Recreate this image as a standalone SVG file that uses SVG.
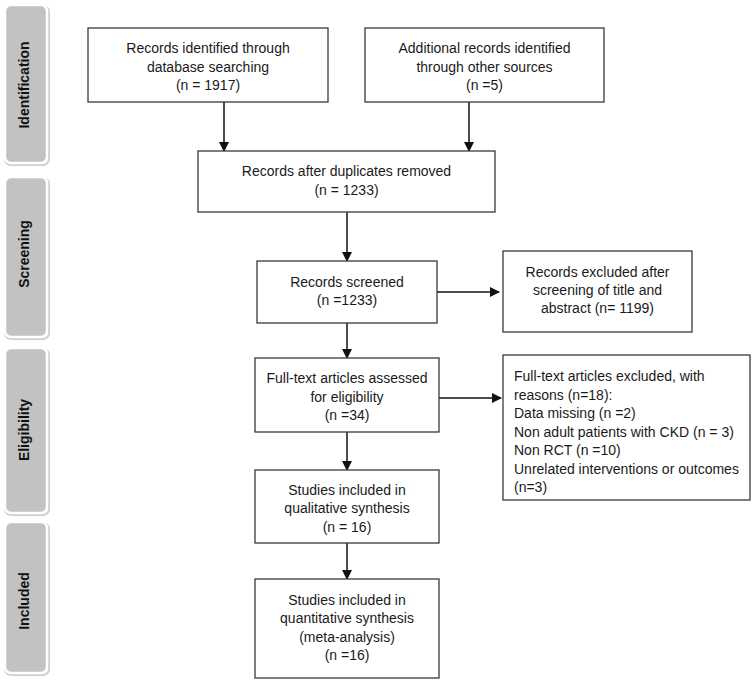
<svg xmlns="http://www.w3.org/2000/svg" width="754" height="681" viewBox="0 0 754 681">
<defs>
<style>
.box{fill:#fff;stroke:#3a3a3a;stroke-width:1.3}
.t{font-family:"Liberation Sans",Arial,sans-serif;font-size:14px;fill:#1a1a1a;text-anchor:middle}
.tl{font-family:"Liberation Sans",Arial,sans-serif;font-size:14px;fill:#1a1a1a}
.bar{fill:#c2c2c2;stroke:#fff;stroke-width:2.5}
.sh{fill:none;stroke:#d0d0d0;stroke-width:2}
.bt{font-family:"Liberation Sans",Arial,sans-serif;font-size:14px;font-weight:bold;fill:#111;text-anchor:middle}
.ln{stroke:#111;stroke-width:1.5;fill:none}
</style>
<marker id="ah" markerWidth="10" markerHeight="10" refX="9" refY="5" orient="auto" markerUnits="userSpaceOnUse">
<path d="M0,0 L10,5 L0,10 z" fill="#111"/>
</marker>
</defs>
<rect width="754" height="681" fill="#fff"/>
<g id="stage-identification">
<rect class="sh" x="5" y="6" width="44" height="159" rx="6"/>
<rect class="bar" x="5" y="5" width="42" height="158" rx="6"/>
<text class="bt" transform="translate(29,85) rotate(-90)">Identification</text>
</g>
<g id="stage-screening">
<rect class="sh" x="5" y="178" width="44" height="161" rx="6"/>
<rect class="bar" x="5" y="177" width="42" height="160" rx="6"/>
<text class="bt" transform="translate(29,254) rotate(-90)">Screening</text>
</g>
<g id="stage-eligibility">
<rect class="sh" x="5" y="349" width="44" height="166" rx="6"/>
<rect class="bar" x="5" y="348" width="42" height="165" rx="6"/>
<text class="bt" transform="translate(29,430) rotate(-90)">Eligibility</text>
</g>
<g id="stage-included">
<rect class="sh" x="5" y="523" width="44" height="152" rx="6"/>
<rect class="bar" x="5" y="522" width="42" height="151" rx="6"/>
<text class="bt" transform="translate(29,601) rotate(-90)">Included</text>
</g>
<g id="connectors">
<line class="ln" x1="224" y1="102" x2="224" y2="151" marker-end="url(#ah)"/>
<line class="ln" x1="469" y1="102" x2="469" y2="151" marker-end="url(#ah)"/>
<line class="ln" x1="347" y1="212" x2="347" y2="261" marker-end="url(#ah)"/>
<line class="ln" x1="347" y1="323" x2="347" y2="358" marker-end="url(#ah)"/>
<line class="ln" x1="347" y1="432" x2="347" y2="470" marker-end="url(#ah)"/>
<line class="ln" x1="347" y1="543" x2="347" y2="579" marker-end="url(#ah)"/>
<line class="ln" x1="437" y1="292" x2="499" y2="292" marker-end="url(#ah)"/>
<line class="ln" x1="439" y1="398" x2="501" y2="398" marker-end="url(#ah)"/>
</g>
<g id="n-database">
<rect class="box" x="88" y="28" width="240" height="74"/>
<text class="t" x="208" y="53">Records identified through</text>
<text class="t" x="208" y="72">database searching</text>
<text class="t" x="208" y="90">(n = 1917)</text>
</g>
<g id="n-other">
<rect class="box" x="365" y="28" width="239" height="74"/>
<text class="t" x="484.5" y="53">Additional records identified</text>
<text class="t" x="484.5" y="72">through other sources</text>
<text class="t" x="484.5" y="90">(n =5)</text>
</g>
<g id="n-dedup">
<rect class="box" x="198" y="151" width="297" height="61"/>
<text class="t" x="346.5" y="176">Records after duplicates removed</text>
<text class="t" x="346.5" y="195">(n = 1233)</text>
</g>
<g id="n-screened">
<rect class="box" x="257" y="261" width="180" height="62"/>
<text class="t" x="347" y="287">Records screened</text>
<text class="t" x="347" y="305">(n =1233)</text>
</g>
<g id="n-excluded1">
<rect class="box" x="503" y="251" width="189" height="81"/>
<text class="t" x="597.5" y="277">Records excluded after</text>
<text class="t" x="597.5" y="295">screening of title and</text>
<text class="t" x="597.5" y="313">abstract (n= 1199)</text>
</g>
<g id="n-fulltext">
<rect class="box" x="255" y="358" width="184" height="74"/>
<text class="t" x="347" y="383">Full-text articles assessed</text>
<text class="t" x="347" y="402">for eligibility</text>
<text class="t" x="347" y="420">(n =34)</text>
</g>
<g id="n-excluded2">
<rect class="box" x="503" y="355" width="247" height="145"/>
<text class="tl" x="514" y="381">Full-text articles excluded, with</text>
<text class="tl" x="514" y="399.5">reasons (n=18):</text>
<text class="tl" x="514" y="418">Data missing (n =2)</text>
<text class="tl" x="514" y="436.5">Non adult patients with CKD (n = 3)</text>
<text class="tl" x="514" y="455">Non RCT (n =10)</text>
<text class="tl" x="514" y="473.5">Unrelated interventions or outcomes</text>
<text class="tl" x="514" y="492">(n=3)</text>
</g>
<g id="n-qualitative">
<rect class="box" x="255" y="470" width="184" height="73"/>
<text class="t" x="347" y="495">Studies included in</text>
<text class="t" x="347" y="513">qualitative synthesis</text>
<text class="t" x="347" y="532">(n = 16)</text>
</g>
<g id="n-quantitative">
<rect class="box" x="255" y="579" width="184" height="99"/>
<text class="t" x="347" y="605">Studies included in</text>
<text class="t" x="347" y="623">quantitative synthesis</text>
<text class="t" x="347" y="642">(meta-analysis)</text>
<text class="t" x="347" y="660">(n =16)</text>
</g>
</svg>
